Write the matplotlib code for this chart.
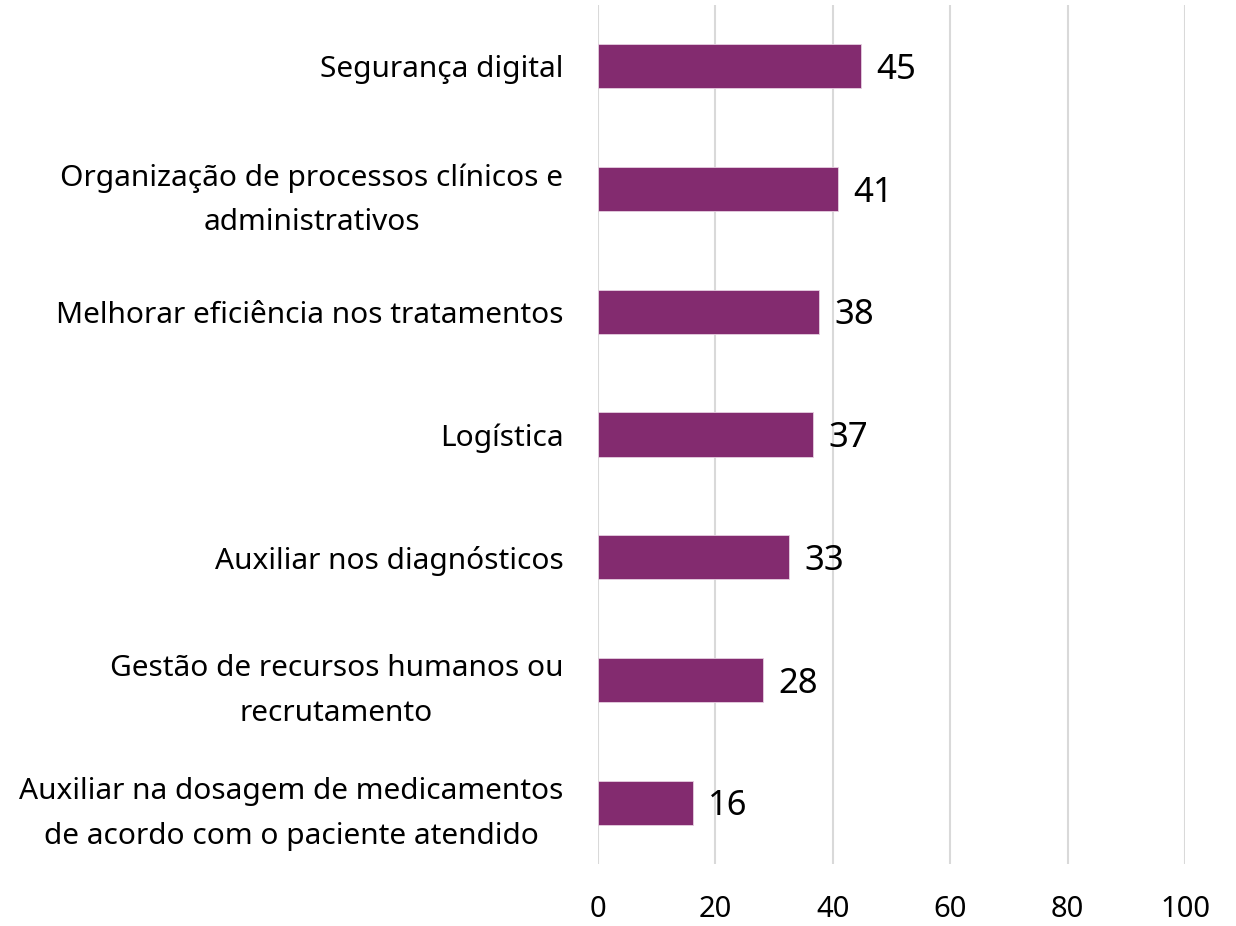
import matplotlib
matplotlib.use("Agg")
import matplotlib.pyplot as plt

# data (top to bottom as shown)
categories = [
    "Segurança digital",
    "Organização de processos clínicos e\nadministrativos",
    "Melhorar eficiência nos tratamentos",
    "Logística",
    "Auxiliar nos diagnósticos",
    "Gestão de recursos humanos ou\nrecrutamento",
    "Auxiliar na dosagem de medicamentos\nde acordo com o paciente atendido",
]
values = [44.8, 40.9, 37.6, 36.7, 32.6, 28.1, 16.2]
xticks = [0, 20, 40, 60, 80, 100]

plt.rcParams["font.family"] = ["Noto Sans", "DejaVu Sans"]

fig = plt.figure(figsize=(12.36, 9.26), dpi=100)
ax = fig.add_axes([0.4838, 0.067, 0.475, 0.9276])

pos = list(range(len(categories)))
ax.barh(pos, values, height=0.36, color="#832B6F", edgecolor="#E6CFE0", linewidth=0.6, zorder=3)

# value labels right of each bar
for p, v in zip(pos, values):
    ax.text(v + 2.6, p + 0.03, "%.0f" % v, va="center", ha="left", fontsize=25, color="black", zorder=4)

ax.set_xlim(0, 100)
ax.set_ylim(len(categories) - 0.5, -0.5)
ax.set_xticks(xticks)
ax.set_xticklabels([str(t) for t in xticks], fontsize=21)
ax.set_yticks(pos)
ax.set_yticklabels(categories, fontsize=21.5, multialignment="center", linespacing=1.7)
ax.tick_params(axis="both", length=0)
ax.tick_params(axis="y", pad=25)
ax.tick_params(axis="x", pad=22)

ax.grid(axis="x", color="#D9D9D9", linewidth=1.5, zorder=0)
ax.set_axisbelow(True)
for s in ax.spines.values():
    s.set_visible(False)

fig.savefig("out.png", dpi=100)
